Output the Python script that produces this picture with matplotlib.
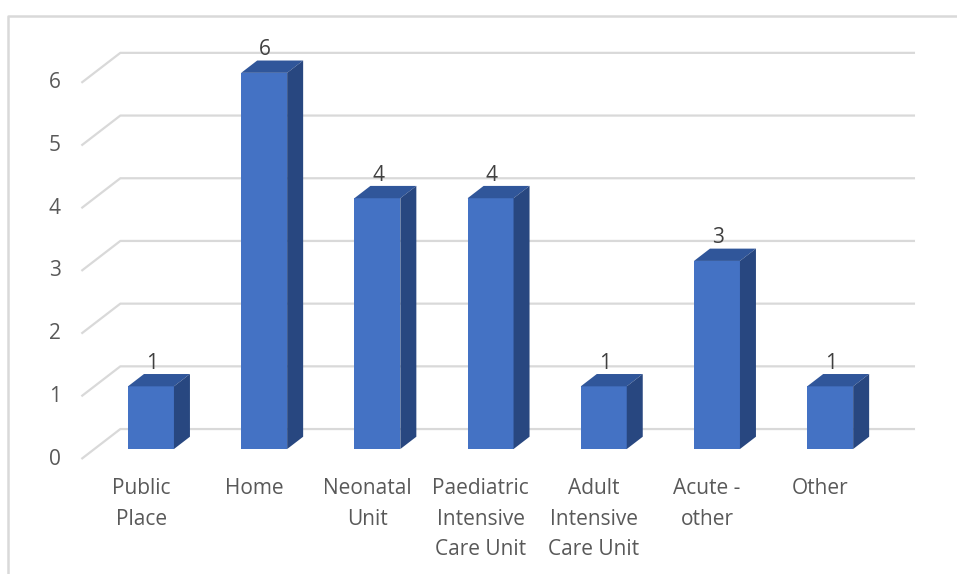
import matplotlib
matplotlib.use("Agg")
import matplotlib.pyplot as plt

categories = ["Public\nPlace", "Home", "Neonatal\nUnit", "Paediatric\nIntensive\nCare Unit",
              "Adult\nIntensive\nCare Unit", "Acute -\nother", "Other"]
counts = [1, 6, 4, 4, 1, 3, 1]
yticks = [0, 1, 2, 3, 4, 5, 6]

# fake 3d: a point at depth d (0 = front of floor, 1 = back wall) is shifted by d*(DX, DY)
DX, DY = 0.344, 0.478
D0, D1 = 0.333, 0.744   # front / back of the bars
HW = 0.203              # half width of a bar

front_col = "#4472C4"
top_col = "#30569A"
side_col = "#284780"
grid_col = "#D9D9D9"
txt_col = "#595959"

plt.rcParams['font.family'] = ['Open Sans', 'DejaVu Sans']

fig = plt.figure(figsize=(9.57, 5.74), dpi=100)
ax = fig.add_axes([0, 0, 1, 1])
ax.set_xlim(-1.219, 7.235)
ax.set_ylim(-1.834, 7.321)
ax.axis('off')


def proj(x, v, d):
    return x + d * DX, v + d * DY


# gridlines: left wall diagonal + back wall
x0, x1 = -0.5, len(categories) - 0.48
for t in yticks:
    pts = [proj(x0, t, 0), proj(x0, t, 1), proj(x1, t, 1)]
    xs, ys = zip(*pts)
    ax.plot(xs, ys, color=grid_col, lw=1.6, zorder=1, solid_capstyle='butt')
    lx, ly = proj(x0, t, 0)
    ax.text(lx - 0.235, ly, str(t), ha='center', va='center', fontsize=15, color=txt_col)

# bars
for i, val in enumerate(counts):
    fx, fy = proj(i, 0, D0)
    ax.bar(fx, val, width=2 * HW, bottom=fy, color=front_col, zorder=3 + i * 0.01)
    top = [proj(i - HW, val, D0), proj(i + HW, val, D0), proj(i + HW, val, D1), proj(i - HW, val, D1)]
    ax.fill(*zip(*top), color=top_col, lw=0, zorder=3 + i * 0.01)
    side = [proj(i + HW, 0, D0), proj(i + HW, val, D0), proj(i + HW, val, D1), proj(i + HW, 0, D1)]
    ax.fill(*zip(*side), color=side_col, lw=0, zorder=3 + i * 0.01)
    tx, ty = proj(i, val, D0)
    ax.text(tx + 0.01, ty + 0.37, str(val), ha='center', va='center', fontsize=15, color="#404040")

# category labels
for i, lab in enumerate(categories):
    lx, ly = proj(i, 0, 0.08)
    ax.text(lx, ly - 0.34, lab, ha='center', va='top', fontsize=15, color=txt_col, linespacing=1.6)

# chart border (top and left only are visible)
bx, by = 8 / 957, 1 - 16 / 574
ax.plot([bx, bx, 1], [0, by, by], color=grid_col, lw=1.8, transform=ax.transAxes, clip_on=False)

fig.savefig("out.png", dpi=100)
